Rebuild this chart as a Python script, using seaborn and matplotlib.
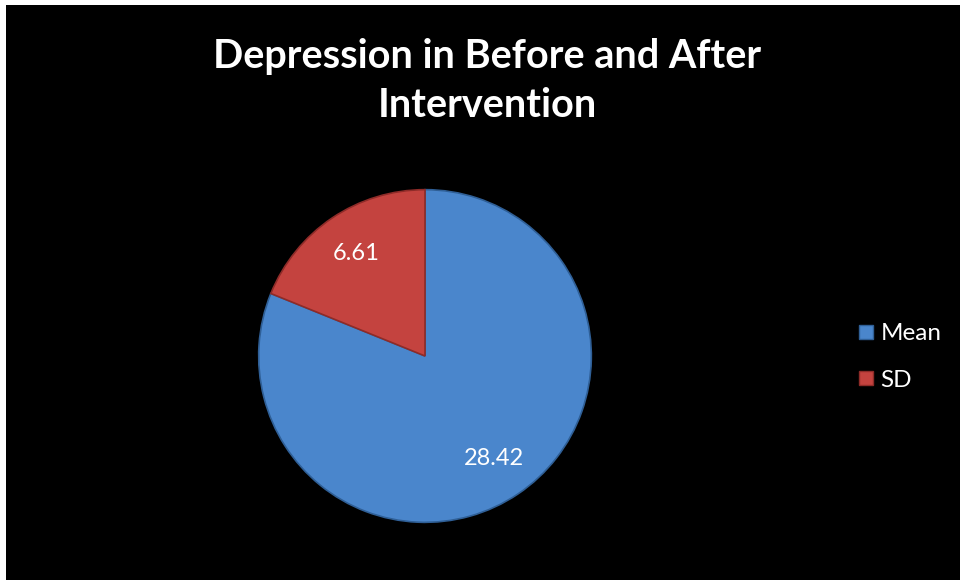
import matplotlib
matplotlib.use("Agg")
import matplotlib.pyplot as plt
from matplotlib.patches import Rectangle
from matplotlib.lines import Line2D
import seaborn as sns

categories = ["Mean", "SD"]
values = [28.42, 6.61]
title_text = "Depression in Before and After\nIntervention"

sns.set_theme(style="white")
plt.rcParams["font.family"] = ["Lato", "DejaVu Sans"]

colors = ["#4a86cc", "#c4433f"]
edge_colors = ["#2f5f96", "#8e2b28"]

W, H = 960, 580
fig = plt.figure(figsize=(W / 100, H / 100), dpi=100, facecolor="white")

# black chart area, leaving a thin white strip at left and top
fig.add_artist(Rectangle((6 / W, 0), 1 - 6 / W, 1 - 5 / H,
                         transform=fig.transFigure, facecolor="black",
                         edgecolor="none", zorder=0))

cx, cy, r = 425, 356, 168
ax = fig.add_axes([(cx - r) / W, (H - cy - r) / H, 2 * r / W, 2 * r / H])
ax.set_facecolor("none")

total = sum(values)
wedges, texts, autotexts = ax.pie(
    values, colors=colors, startangle=90, counterclock=False,
    autopct=lambda p: f"{p * total / 100:.2f}", pctdistance=0.74,
    textprops=dict(color="white", fontsize=17),
    wedgeprops=dict(linewidth=1.2),
)
for w, ec in zip(wedges, edge_colors):
    w.set_edgecolor(ec)
ax.set_xlim(-1.01, 1.01)
ax.set_ylim(-1.01, 1.01)
ax.set_aspect("equal")
ax.axis("off")

fig.text(487 / W, 1 - 81 / H, title_text, ha="center", va="center",
         color="white", fontsize=28.5, fontweight="bold", linespacing=1.38)

handles = [Line2D([], [], marker="s", linestyle="none", markersize=10.5,
                  markerfacecolor=c, markeredgecolor=ec)
           for c, ec in zip(colors, edge_colors)]
leg = fig.legend(handles, categories, loc="center left",
                 bbox_to_anchor=(860 / W, 1 - 357 / H), frameon=False,
                 fontsize=17.5, labelspacing=1.05, handlelength=0.5,
                 handletextpad=0.35, borderpad=0, borderaxespad=0)
for t in leg.get_texts():
    t.set_color("white")

fig.savefig("out.png", dpi=100, facecolor=fig.get_facecolor())
